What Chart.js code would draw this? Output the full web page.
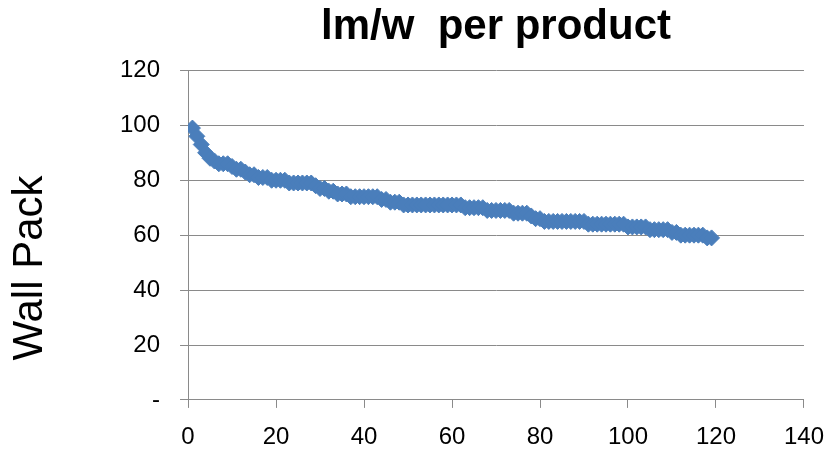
<!DOCTYPE html>
<html>
<head>
<meta charset="utf-8">
<script src="https://cdn.jsdelivr.net/npm/chart.js@4"></script>
<style>
  html, body { margin: 0; padding: 0; background: #fff; }
  #wrap { width: 827px; height: 449px; }
</style>
</head>
<body>
<div id="wrap"><canvas id="chart-lmw" width="827" height="449"></canvas></div>
<script>
// lm/w per product (Wall Pack), sorted high to low
const chartTitle = 'lm/w  per product';
const axisTitle = 'Wall Pack';
const lmPerW = [
    99, 96, 93, 90, 88, 87, 86, 86, 86, 85,
    84, 84, 83, 82, 82, 81, 81, 81, 80, 80,
    80, 80, 79, 79, 79, 79, 79, 79, 78, 77,
    77, 76, 76, 75, 75, 75, 74, 74, 74, 74,
    74, 74, 74, 73, 73, 72, 72, 72, 71, 71,
    71, 71, 71, 71, 71, 71, 71, 71, 71, 71,
    71, 71, 70, 70, 70, 70, 70, 69, 69, 69,
    69, 69, 69, 68, 68, 68, 68, 67, 66, 66,
    65, 65, 65, 65, 65, 65, 65, 65, 65, 65,
    64, 64, 64, 64, 64, 64, 64, 64, 64, 63,
    63, 63, 63, 63, 62, 62, 62, 62, 62, 61,
    61, 60, 60, 60, 60, 60, 60, 59, 59
];
const xTicks = [0, 20, 40, 60, 80, 100, 120, 140];
const yTicks = [0, 20, 40, 60, 80, 100, 120];

const gridColor = '#8a8a8a';
const tickFont = { family: 'Liberation Sans', size: 24 };

// product number on x, lm/w on y
const points = lmPerW.map((v, i) => ({ x: i + 1, y: v }));

// Excel puts the vertical axis title a bit below the middle, so draw it by hand
const yTitlePlugin = {
    id: 'yTitle',
    afterDraw(chart) {
        const c = chart.ctx;
        c.save();
        c.translate(42, 268);
        c.rotate(-Math.PI / 2);
        c.font = '42px "Liberation Sans"';
        c.fillStyle = '#000';
        c.textAlign = 'center';
        c.textBaseline = 'alphabetic';
        c.fillText(axisTitle, 0, 0);
        c.restore();
    }
};

const ctx = document.getElementById('chart-lmw').getContext('2d');
new Chart(ctx, {
    type: 'scatter',
    data: {
        datasets: [{
            data: points,
            pointStyle: 'rectRot',
            pointRadius: 8,
            pointHoverRadius: 8,
            backgroundColor: '#4A7EBB',
            borderColor: '#4A7EBB',
            borderWidth: 1
        }]
    },
    plugins: [yTitlePlugin],
    options: {
        responsive: false,
        animation: false,
        layout: { padding: { left: 100, right: 5, top: 0, bottom: -17 } },
        plugins: {
            legend: { display: false },
            tooltip: { enabled: false },
            title: {
                display: true,
                text: chartTitle,
                fullSize: false,
                color: '#000',
                font: { family: 'Liberation Sans', size: 42, weight: 'bold' },
                padding: { top: 2, bottom: 18 }
            }
        },
        scales: {
            x: {
                type: 'linear',
                min: xTicks[0],
                max: xTicks[xTicks.length - 1],
                afterBuildTicks: s => { s.ticks = xTicks.map(v => ({ value: v })); },
                border: { color: gridColor, width: 1 },
                grid: { drawOnChartArea: false, drawTicks: true, tickLength: 8, color: gridColor },
                ticks: {
                    color: '#000',
                    font: { family: 'Liberation Sans', size: 24, lineHeight: 2.17 },
                    padding: 3,
                    maxRotation: 0
                }
            },
            y: {
                type: 'linear',
                min: yTicks[0],
                max: yTicks[yTicks.length - 1],
                afterBuildTicks: s => { s.ticks = yTicks.map(v => ({ value: v })); },
                border: { color: gridColor, width: 1 },
                grid: { color: gridColor, lineWidth: 1, tickLength: 8 },
                ticks: {
                    color: '#000',
                    font: tickFont,
                    padding: 20,
                    callback: v => (v === 0 ? '-' : v)
                }
            }
        }
    }
});
</script>
</body>
</html>
